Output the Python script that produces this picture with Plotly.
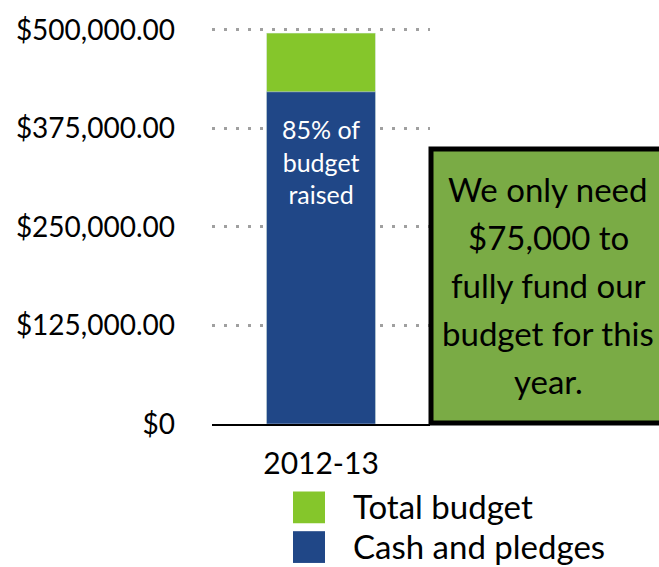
import plotly.graph_objects as go

# ---- data ----
categories = ["2012-13"]
series_names = ["Total budget", "Cash and pledges"]
total_budget = [496000]
cash_and_pledges = [421600]
y_tick_values = [0, 125000, 250000, 375000, 500000]
y_tick_labels = ["$0", "$125,000.00", "$250,000.00", "$375,000.00", "$500,000.00"]
callout_lines = ["We only need", "$75,000 to", "fully fund our", "budget for this", "year."]

GREEN = "#85c62b"
BLUE = "#204787"
BOX_GREEN = "#7aab45"
FONT = "Lato"

W, H = 659, 567
L, R, T, B = 212, 229, 25, 143
PW, PH = W - L - R, H - T - B


def px_x(px):
    return (px - L) / PW


def px_y(py):
    return (H - B - py) / PH


fig = go.Figure()
fig.add_trace(go.Bar(x=categories, y=total_budget, name=series_names[0],
                     marker_color=GREEN, width=0.5, showlegend=False, hoverinfo="skip"))
fig.add_trace(go.Bar(x=categories, y=cash_and_pledges, name=series_names[1],
                     marker_color=BLUE, width=0.5, showlegend=False, hoverinfo="skip"))

pct = round(100 * cash_and_pledges[0] / total_budget[0])
fig.add_annotation(x=categories[0], y=cash_and_pledges[0],
                   text=f"{pct}% of<br>budget<br>raised", showarrow=False,
                   yanchor="top", yshift=-20,
                   font=dict(family=FONT, size=25, color="white"))

# callout box
shapes = [dict(type="rect", xref="paper", yref="paper",
               x0=px_x(431), x1=px_x(668), y0=px_y(423), y1=px_y(147),
               fillcolor=BOX_GREEN, line=dict(color="black", width=5), layer="above")]
for i, t in enumerate(callout_lines):
    fig.add_annotation(xref="paper", yref="paper", x=px_x(548), y=px_y(187 + 48.5 * i),
                       text=t, showarrow=False, xanchor="center", yanchor="middle",
                       font=dict(family=FONT, size=33, color="black"))

# custom legend
legend_colors = [GREEN, BLUE]
for i, (name, col) in enumerate(zip(series_names, legend_colors)):
    top = 492 + 40 * i
    shapes.append(dict(type="rect", xref="paper", yref="paper",
                       x0=px_x(293), x1=px_x(325), y0=px_y(top + 32), y1=px_y(top),
                       fillcolor=col, line=dict(width=0)))
    fig.add_annotation(xref="paper", yref="paper", x=px_x(351), y=px_y(top + 15),
                       text=name, showarrow=False, xanchor="left", yanchor="middle",
                       font=dict(family=FONT, size=33, color="black"))

fig.update_layout(
    width=W, height=H,
    margin=dict(l=L, r=R, t=T, b=B, pad=0),
    barmode="overlay",
    plot_bgcolor="white", paper_bgcolor="white",
    shapes=shapes,
    showlegend=False,
    hovermode=False,
    font=dict(family=FONT, color="black"),
    xaxis=dict(showline=True, linecolor="black", linewidth=2, showgrid=False,
               tickfont=dict(size=30, color="black"), ticklabelstandoff=12,
               range=[-0.5, 0.5], fixedrange=True),
    yaxis=dict(range=[0, 502500], tickvals=y_tick_values, ticktext=y_tick_labels,
               tickfont=dict(size=28, color="black"), showgrid=True,
               gridcolor="#a0a0a0", gridwidth=2.5, griddash="2.5px,9.5px",
               zeroline=False, showline=False, ticklabelstandoff=36, fixedrange=True),
)

fig.write_html("out.html", config={"displayModeBar": False},
               post_script="document.body.style.margin='0px';")
